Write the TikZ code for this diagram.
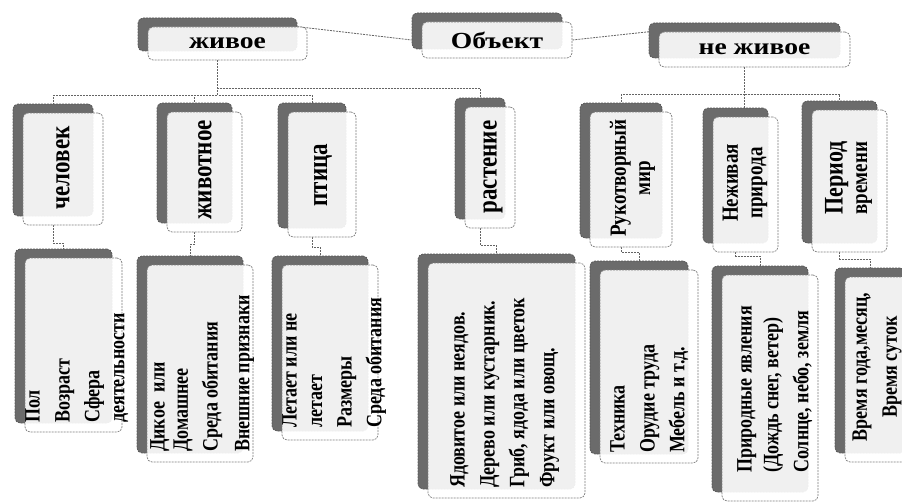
\documentclass[tikz,border=0pt]{standalone}
\usepackage{fontspec}
\setmainfont{Liberation Serif}
\newfontfamily\wideserif[FakeStretch=1.2]{Liberation Serif}
\usetikzlibrary{shadows,backgrounds}
\definecolor{shadowgray}{HTML}{6B6B6B}
\definecolor{linegray}{HTML}{646464}
\definecolor{edgegray}{HTML}{7E7E7E}
\begin{document}
\begin{tikzpicture}[x=1pt,y=-1pt,
  card/.style={draw=edgegray, line width=0.7pt, dash pattern=on 2pt off 1pt,
    rounded corners=5pt, fill=white, fill opacity=0.9, text opacity=1, inner sep=0pt,
    general shadow={shadow xshift=-10pt, shadow yshift=9pt, fill=shadowgray,
      draw=shadowgray!80!black, fill opacity=1, draw opacity=1}},
  conn/.style={draw=linegray, line width=0.8pt, dash pattern=on 2pt off 1pt},
  toplabel/.style={font=\wideserif\bfseries\fontsize{23}{26}\selectfont},
  vlabel/.style={xscale=1.22, rotate=90, align=center, inner sep=0pt, font=\bfseries\fontsize{23}{25}\selectfont},
  vlabelsm/.style={xscale=1.22, rotate=90, align=center, inner sep=0pt, font=\bfseries\fontsize{19}{20}\selectfont},
  clabel/.style={xscale=1.22, rotate=90, anchor=north west, align=left, inner sep=0pt, font=\bfseries\fontsize{18}{20.5}\selectfont},
]
\useasboundingbox (0,0) rectangle (902,503);

% top row
\node[card, toplabel, minimum width=159pt, minimum height=33pt] (zhivoe) at (227.5,43.5) {живое};
\node[card, toplabel, minimum width=150pt, minimum height=36pt] (obekt) at (497,40) {Объект};
\node[card, toplabel, minimum width=191pt, minimum height=35pt] (nezhivoe) at (754.5,49.5) {не живое};

% categories
\node[card, minimum width=80pt, minimum height=112pt] (chelovek) at (63,169) {};
\node[card, minimum width=75pt, minimum height=120pt] (zhivotnoe) at (204.5,172) {};
\node[card, minimum width=68pt, minimum height=125pt] (ptitsa) at (322,174.5) {};
\node[card, minimum width=50pt, minimum height=121pt] (rastenie) at (490,167.5) {};
\node[card, minimum width=82pt, minimum height=135pt] (rukotv) at (631,179.5) {};
\node[card, minimum width=65pt, minimum height=135pt] (nezhprir) at (745.5,184.5) {};
\node[card, minimum width=75pt, minimum height=142pt] (period) at (849.5,181) {};

\node[vlabel] (tchelovek) at (63,168) {человек};
\node[vlabel] (tzhivotnoe) at (205,170) {животное};
\node[vlabel] (tptitsa) at (323,175) {птица};
\node[vlabel] (trastenie) at (493,167) {растение};
\node[vlabelsm] (trukotv) at (632.5,178) {Рукотворный\\мир};
\node[vlabelsm] (tnezhprir) at (745,183) {Неживая\\природа};
\node[vlabelsm] (tperiod) at (848.5,178) {{\fontsize{22}{20}\selectfont Период}\\времени};

% children
\node[card, minimum width=97pt, minimum height=174pt] (c1) at (73.5,345) {};
\node[card, minimum width=106pt, minimum height=197pt] (c2) at (200,363.5) {};
\node[card, minimum width=96pt, minimum height=175pt] (c3) at (330,352.5) {};
\node[card, minimum width=157pt, minimum height=235pt] (c4) at (506.5,380.5) {};
\node[card, minimum width=98pt, minimum height=193pt] (c5) at (649,366.5) {};
\node[card, minimum width=96pt, minimum height=226pt] (c6) at (770,388) {};
\node[card, minimum width=70pt, minimum height=185pt] (c7) at (880,369.5) {};

\node[clabel] (tc1) at (25,423) {Пол\\[4pt]Возраст\\[4pt]Сфера\\деятельности};
\node[clabel] (tc2) at (150,452) {Дикое\ \ или\\[-1.5pt]Домашнее\\[4pt]Среда обитания\\[5.5pt]Внешние признаки};
\node[clabel] (tc3) at (282,428) {Летает или не\\[0.5pt]летает\\[3.5pt]Размеры\\[4pt]Среда обитания};
\node[clabel] (tc4) at (450,488) {Ядовитое или неядов.\\[4pt]Дерево или кустарник.\\[4pt]Гриб, ядода или цветок\\[4pt]Фрукт или овощ.};
\node[clabel] (tc5) at (610,453) {Техника\\[4pt]Орудие труда\\[4pt]Мебель и т.д.};
\node[clabel] (tc6) at (737,473) {Природные явления\\[1.5pt](Дождь снег, ветер)\\[4pt]Солнце, небо, земля};
\node[clabel, anchor=center, align=center] (tc7) at (877,367) {Время года,месяц,\\[4pt]Время суток};

% connectors
\begin{scope}[on background layer]
\draw[conn] ([xshift=-10pt]zhivoe.north east) -- ([xshift=-10pt]obekt.west);
\draw[conn] (obekt.east) -- ([xshift=-9pt]nezhivoe.north west);

\draw[conn] ([xshift=-10pt]zhivoe.south) -- ++(0,28) -| ([shift={(-10pt,9pt)}]rastenie.north);
\draw[conn] ([xshift=-10pt]zhivoe.south) -- ++(0,35) -| ([shift={(-10pt,9pt)}]chelovek.north);
\draw[conn] ([xshift=-10pt]zhivoe.south) -- ++(0,35) -| ([shift={(-10pt,9pt)}]zhivotnoe.north);
\draw[conn] ([xshift=-10pt]zhivoe.south) -- ++(0,35) -| ([shift={(-10pt,9pt)}]ptitsa.north);

\draw[conn] ([xshift=-10pt]nezhivoe.south) -- ++(0,27) -| ([shift={(-10pt,9pt)}]rukotv.north);
\draw[conn] ([xshift=-10pt]nezhivoe.south) -- ([shift={(-1pt,9pt)}]nezhprir.north);
\draw[conn] ([xshift=-10pt]nezhivoe.south) -- ++(0,27) -| ([shift={(-10pt,9pt)}]period.north);

\draw[conn] ([xshift=-10pt]chelovek.south) -- ++(0,18) -| ([shift={(-10pt,9pt)}]c1.north);
\draw[conn] ([xshift=-10pt]zhivotnoe.south) -- ++(0,12) -| ([shift={(-10pt,9pt)}]c2.north);
\draw[conn] ([xshift=-10pt]ptitsa.south) -- ++(0,10) -| ([shift={(-10pt,9pt)}]c3.north);
\draw[conn] ([xshift=-10pt]rastenie.south) -- ++(0,17) -| ([shift={(-10pt,9pt)}]c4.north);
\draw[conn] ([xshift=-10pt]rukotv.south) -- ++(0,5) -| ([shift={(-10pt,9pt)}]c5.north);
\draw[conn] ([xshift=-10pt]nezhprir.south) -- ++(0,4) -| ([shift={(-10pt,9pt)}]c6.north);
\draw[conn] ([xshift=-10pt]period.south) -- ++(0,7) -| ([shift={(-10pt,9pt)}]c7.north);
\end{scope}
\end{tikzpicture}
\end{document}
